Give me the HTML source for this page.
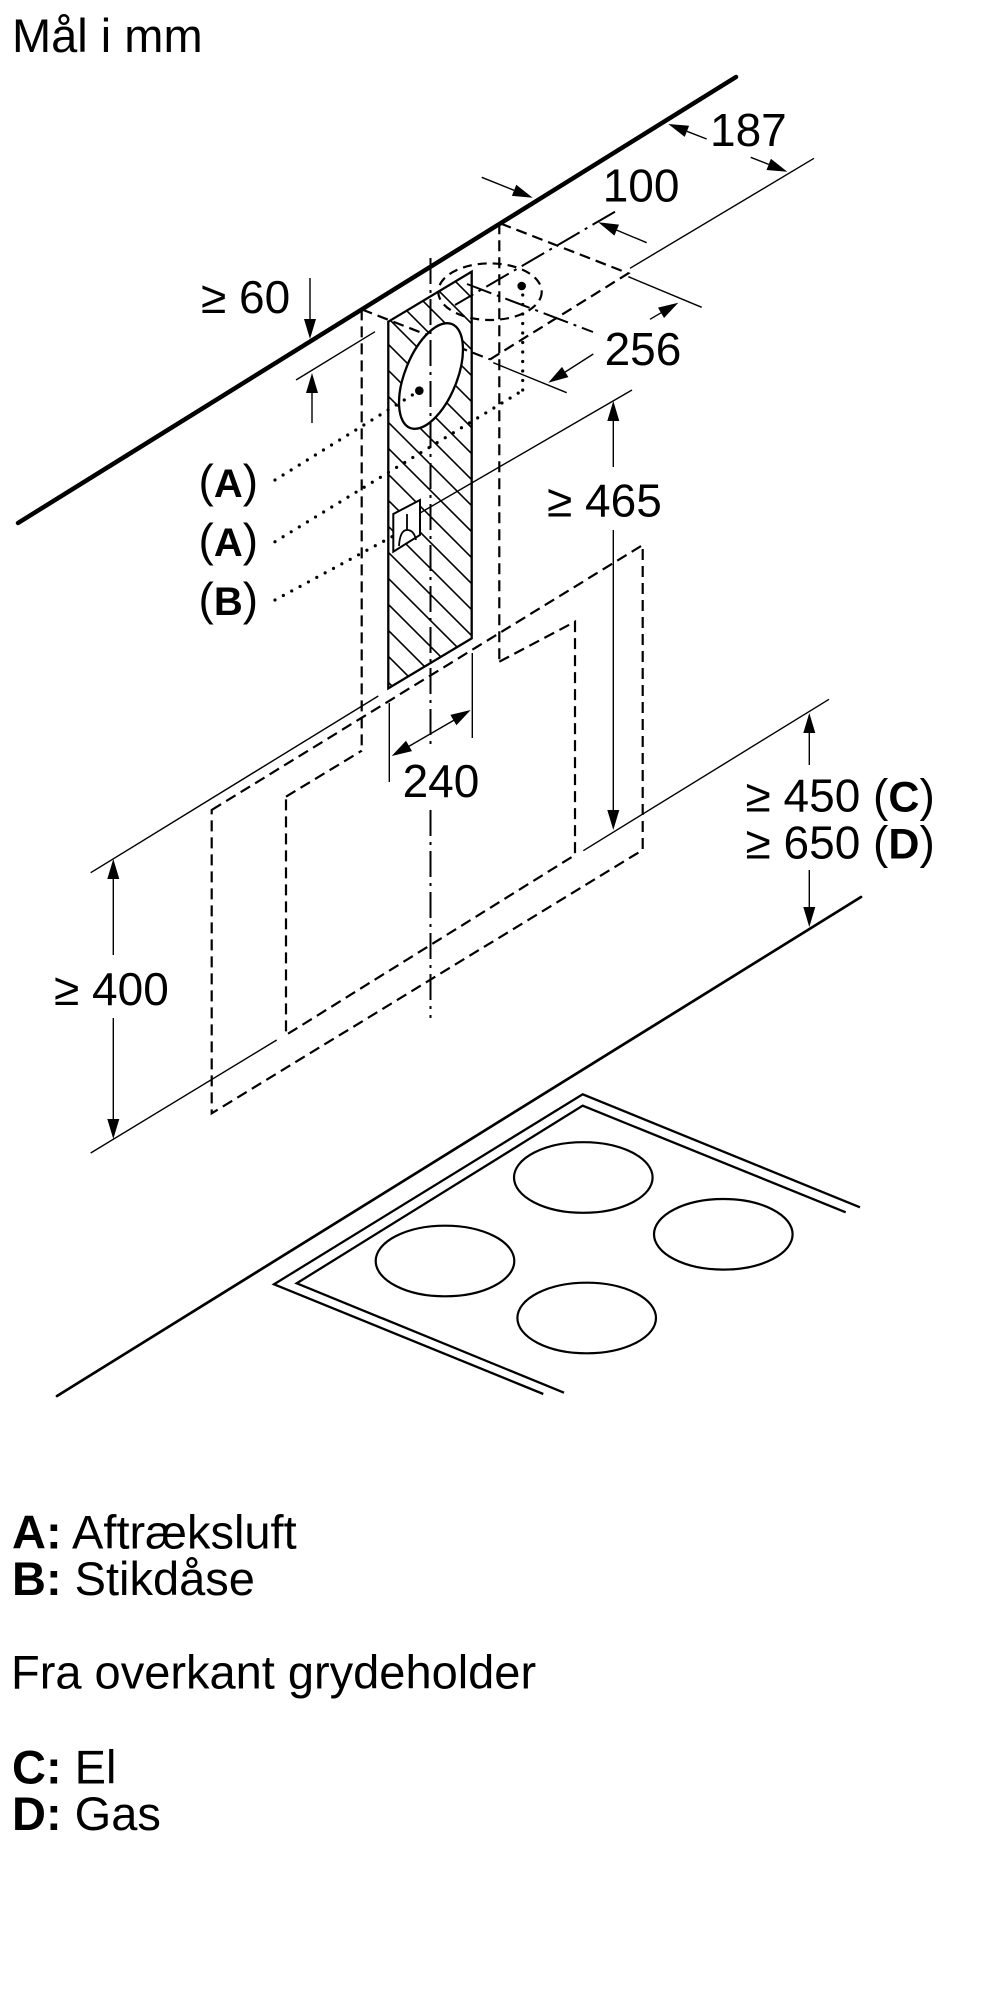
<!DOCTYPE html>
<html>
<head>
<meta charset="utf-8">
<style>
html,body{margin:0;padding:0;background:#fff;}
svg{display:block;}
text{font-family:"Liberation Sans",Arial,sans-serif;fill:#000;}
.t{stroke:#000;stroke-width:1.4;fill:none;}
.d{stroke:#000;stroke-width:2.2;fill:none;stroke-dasharray:11 6;}
.dd{stroke:#000;stroke-width:2;fill:none;stroke-dasharray:26 6 3 6;}
.dt{stroke:#000;stroke-width:3.2;fill:none;stroke-dasharray:0 9.5;stroke-linecap:round;}
.s{stroke:#000;stroke-width:2.3;fill:none;}
</style>
</head>
<body>
<svg width="1000" height="2000" viewBox="0 0 1000 2000" xmlns="http://www.w3.org/2000/svg">
<rect width="1000" height="2000" fill="#fff"/>

<!-- Title -->
<text x="12" y="52" font-size="47">Mål i mm</text>

<!-- Wall line -->
<line x1="18" y1="523" x2="736" y2="77" stroke="#000" stroke-width="4.5" stroke-linecap="round"/>

<!-- Hood outer dashed box -->
<path class="d" d="M211.7,810 L642.7,545 L642.7,850 L211.7,1113.3 Z"/>
<!-- Hood inner dashed box -->
<path class="d" d="M286,796.7 L361.7,750.7"/>
<path class="d" d="M499.3,661.7 L575,621.7 L575,855 L286,1035 L286,796.7"/>

<!-- Chimney verticals -->
<path class="d" d="M361.7,309.4 V751.7"/>
<path class="d" d="M499.3,223.3 V661.7"/>
<!-- Chimney top -->
<path class="d" d="M490,359.4 L628.3,273.3 L500,223.3"/>

<!-- Hatched plate -->
<defs>
<clipPath id="cp"><polygon points="388.3,321.7 471.7,271.7 471.7,638.3 388.3,688.3"/></clipPath>
</defs>
<polygon points="388.3,321.7 471.7,271.7 471.7,638.3 388.3,688.3" fill="#fff"/>
<path clip-path="url(#cp)" stroke="#000" stroke-width="1.6" fill="none" d="M384,184l92,92M384,210l92,92M384,236l92,92M384,262l92,92M384,288l92,92M384,314l92,92M384,340l92,92M384,366l92,92M384,392l92,92M384,418l92,92M384,444l92,92M384,470l92,92M384,496l92,92M384,522l92,92M384,548l92,92M384,574l92,92M384,600l92,92M384,626l92,92M384,652l92,92M384,678l92,92"/>
<polygon points="388.3,321.7 471.7,271.7 471.7,638.3 388.3,688.3" class="s"/>

<!-- chimney top-left edge and dashed exhaust outline -->
<path class="d" d="M361.7,309.4 L490,359.4"/>
<ellipse cx="490" cy="291.7" rx="51.7" ry="28.3" class="d" style="stroke-dasharray:9 6"/>

<!-- Exhaust ellipse -->
<ellipse cx="431" cy="376" rx="26" ry="56" transform="rotate(22 431 376)" fill="#fff" stroke="#000" stroke-width="2.3"/>

<!-- Socket -->
<polygon points="393.3,514 420,500 420,535 393.3,551.7" fill="#fff" stroke="#000" stroke-width="2"/>
<path d="M407,514 V530 M399,546 Q400,530 407,530 Q414,530 416,540" stroke="#000" stroke-width="1.8" fill="none"/>

<!-- Centerline -->
<path class="dd" d="M430.5,258 V745 M430.5,810 V1018"/>
<!-- top dash-dot lines -->
<path class="dd" d="M615,211.7 L455,305"/>
<path class="dd" d="M467,284 L593,332"/>

<!-- Dotted leaders -->
<path class="dt" d="M275,480 L419.3,390.7"/>
<path class="dt" d="M275,541.7 L523.3,390"/>
<path class="dt" d="M275,600 L393.3,536"/>
<path class="dt" d="M522.7,390 L522.7,293"/>
<circle cx="419.3" cy="390.7" r="4.3" fill="#000"/>
<circle cx="521.7" cy="286" r="4.3" fill="#000"/>

<!-- Extension lines -->
<path class="t" d="M90.7,872.7 L378.3,696"/>
<path class="t" d="M90.7,1153 L276.7,1040"/>
<path class="t" d="M420,513 L632,390"/>
<path class="t" d="M583.3,850.7 L829,699.3"/>
<path class="t" d="M814,158.3 L630,268.3"/>
<path class="t" d="M628.3,276.7 L701.7,307.3"/>
<path class="t" d="M493.3,362.7 L566.7,392.7"/>
<path class="t" d="M296,380 L375,331.7"/>
<path class="t" d="M389.3,703 V782 M472.3,653 V738"/>

<!-- Dimension lines -->
<path class="t" d="M113.3,879 V955 M113.3,1018 V1119"/>
<path class="t" d="M613.3,421 V467 M613.3,530 V810"/>
<path class="t" d="M809.3,733 V765 M809.3,870 V907"/>
<path class="t" d="M310,278 V319 M312,393 V423"/>
<path class="t" d="M706.7,139 L686.9,131.3 M750.7,157.3 L768.7,164.4"/>
<path class="t" d="M481.7,177.3 L514.1,190.3 M646.7,242.7 L616.7,230.1"/>
<path class="t" d="M650,319.3 L661,312.8 M593.3,354 L565.2,372"/>
<path class="t" d="M406,748 L456,719"/>

<!-- Arrowheads -->
<g fill="#000">
<polygon points="113.3,859 119.3,879 107.3,879"/>
<polygon points="113.3,1139 107.3,1119 119.3,1119"/>
<polygon points="613.3,401 619.3,421 607.3,421"/>
<polygon points="613.3,830 607.3,810 619.3,810"/>
<polygon points="809.3,713 815.3,733 803.3,733"/>
<polygon points="809.3,927 803.3,907 815.3,907"/>
<polygon points="310,339 304,319 316,319"/>
<polygon points="312,373 318,393 306,393"/>
<polygon points="391.7,756 406,740.7 412,751.1"/>
<polygon points="470.7,710 456.4,725.3 450.4,714.9"/>
<polygon points="668.3,124 689.1,125.7 684.7,136.9"/>
<polygon points="787.3,171.7 766.5,170 770.9,158.8"/>
<polygon points="532.7,197.7 511.9,195.9 516.3,184.7"/>
<polygon points="598.3,222.3 619,224.6 614.4,235.6"/>
<polygon points="678.3,302.7 664,318 658,307.6"/>
<polygon points="548.3,382.7 562,366.9 568.4,377.1"/>
</g>

<!-- Counter line -->
<line x1="57" y1="1396" x2="861" y2="897" stroke="#000" stroke-width="2.7" stroke-linecap="round"/>
<!-- Cooktop frames -->
<polyline points="543.3,1394 274,1284.3 582.7,1094.3 860,1207.3" class="s" stroke-linejoin="miter"/>
<polyline points="564,1392.7 296.7,1283.3 582.7,1105.7 845.7,1212.3" class="s" stroke-linejoin="miter"/>
<!-- Burners -->
<g fill="none" stroke="#000" stroke-width="2.2">
<ellipse cx="583.3" cy="1177.5" rx="69.3" ry="35.3"/>
<ellipse cx="723.3" cy="1234.3" rx="69.3" ry="35.3"/>
<ellipse cx="445" cy="1261" rx="69.3" ry="35.3"/>
<ellipse cx="586.7" cy="1318" rx="69.3" ry="35.3"/>
</g>

<!-- Dimension texts -->
<g font-size="46">
<text x="710" y="146">187</text>
<text x="602.7" y="201.7">100</text>
<text x="604.6" y="365">256</text>
<text x="201" y="313">≥ 60</text>
<text x="547" y="516.7">≥ 465</text>
<text x="54" y="1005">≥ 400</text>
<text x="402.6" y="797">240</text>
<text x="745.5" y="811.7">≥ 450 (<tspan font-weight="bold" font-size="43">C</tspan>)</text>
<text x="745.5" y="858.3">≥ 650 (<tspan font-weight="bold" font-size="43">D</tspan>)</text>
<text x="198.5" y="497">(<tspan font-weight="bold" font-size="40">A</tspan>)</text>
<text x="198.5" y="556">(<tspan font-weight="bold" font-size="40">A</tspan>)</text>
<text x="198.5" y="615">(<tspan font-weight="bold" font-size="40">B</tspan>)</text>
</g>

<!-- Legend -->
<g font-size="47">
<text x="12" y="1548.3"><tspan font-weight="bold">A:</tspan> Aftræksluft</text>
<text x="12" y="1595"><tspan font-weight="bold">B:</tspan> Stikdåse</text>
<text x="11" y="1688.3">Fra overkant grydeholder</text>
<text x="12" y="1783.3"><tspan font-weight="bold">C:</tspan> El</text>
<text x="12" y="1830"><tspan font-weight="bold">D:</tspan> Gas</text>
</g>
</svg>
</body>
</html>
